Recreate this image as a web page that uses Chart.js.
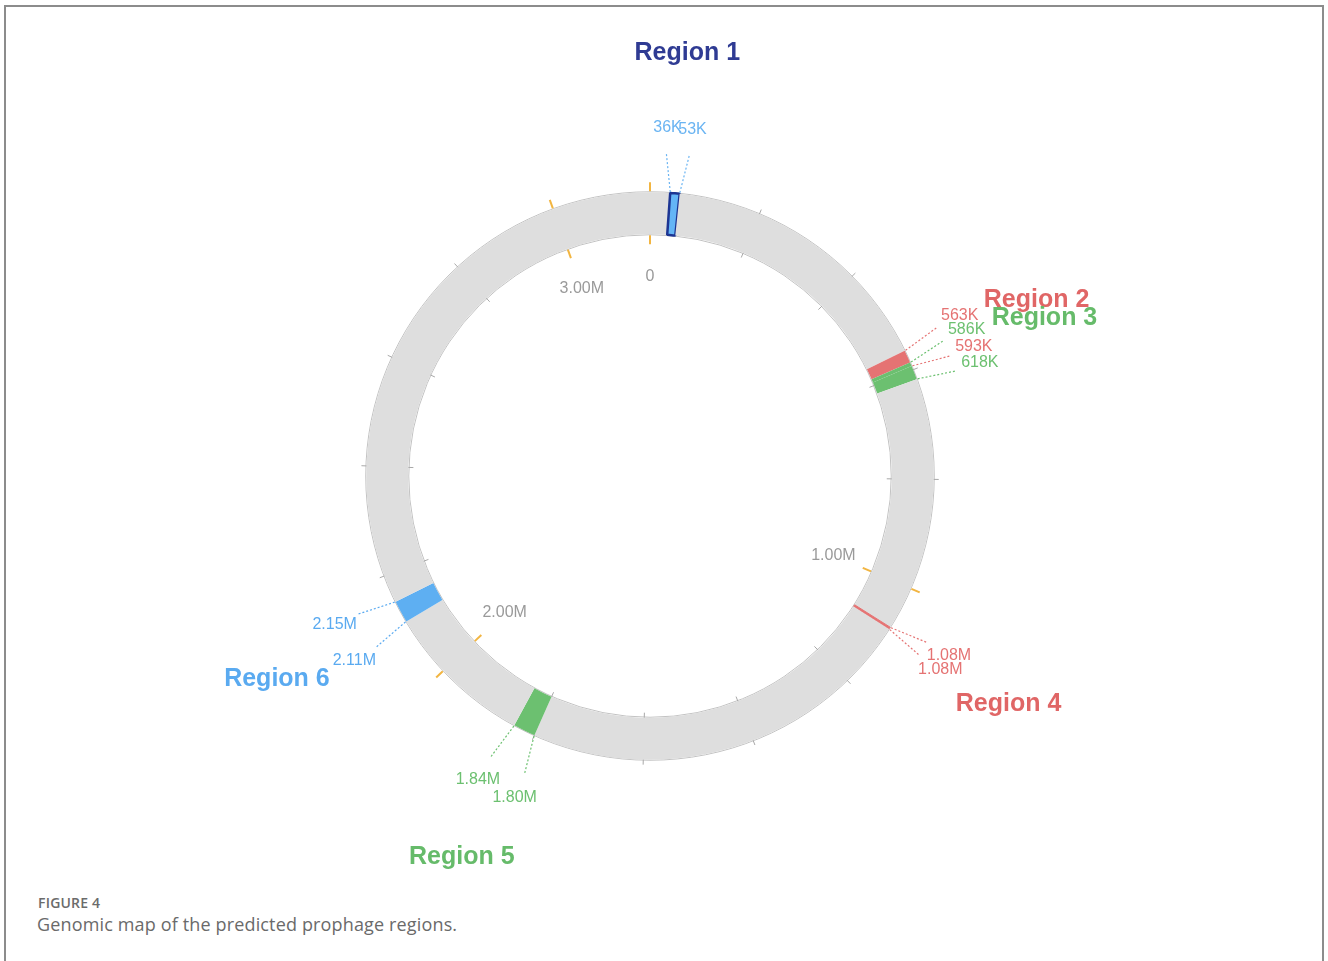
<!DOCTYPE html>
<html>
<head>
<meta charset="utf-8">
<script src="https://cdn.jsdelivr.net/npm/chart.js@4.4.1/dist/chart.umd.min.js"></script>
<style>
  html, body { margin: 0; padding: 0; background: #fff; }
  #page { position: relative; width: 1328px; height: 961px; overflow: hidden; background: #fff; }
  #frame { position: absolute; left: 4px; top: 5px; width: 1320px; height: 970px; border: 2px solid #8c8c8c; box-sizing: border-box; }
  #chart { position: absolute; left: 0; top: 0; }
  .fig-label { position: absolute; left: 38px; top: 893px; font: 600 14px "Open Sans", sans-serif; color: #6b6b6b; letter-spacing: 0.2px; }
  .fig-caption { position: absolute; left: 37px; top: 912px; font: 400 18px "Open Sans", sans-serif; color: #6a6a6a; letter-spacing: 0.15px; }
</style>
</head>
<body>
<div id="page">
  <div id="frame"></div>
  <canvas id="chart" width="1328" height="880"></canvas>
  <div class="fig-label">FIGURE 4</div>
  <div class="fig-caption">Genomic map of the predicted prophage regions.</div>
</div>
<script>
// ------------------------------------------------------------
// DATA
// ------------------------------------------------------------
const genomeLength = 3176000;
const regionNames = ['Region 1', 'Region 2', 'Region 3', 'Region 4', 'Region 5', 'Region 6'];
const regionStart = [36000, 563000, 586000, 1078000, 1800000, 2110000];
const regionEnd = [53000, 593000, 618000, 1082000, 1840000, 2150000];
const startLabels = ['36K', '563K', '586K', '1.08M', '1.80M', '2.11M'];
const endLabels = ['53K', '593K', '618K', '1.08M', '1.84M', '2.15M'];
const majorTicks = [0, 1000000, 2000000, 3000000];
const majorTickLabels = ['0', '1.00M', '2.00M', '3.00M'];
const minorStep = 200000;

// ------------------------------------------------------------
// STYLE
// ------------------------------------------------------------
const RING = '#dedede';
const RING_EDGE = '#c3c3c3';
const regionFill = ['#64b5f6', '#e57373', '#6cc070', '#e57373', '#6cc070', '#5eaff2'];
const regionText = ['#6ab4f2', '#e57373', '#6cc070', '#e57373', '#6cc070', '#5aaaf0'];
const regionTitle = ['#2f3b93', '#e06666', '#66bb6a', '#e06666', '#66bb6a', '#5aaaf0'];
const regionBorder = ['#1c3593', null, null, '#e57373', null, null];

// build ring segments from region bounds (later regions drawn on top)
const bounds = [...new Set([0, genomeLength, ...regionStart, ...regionEnd])].sort((a, b) => a - b);
const segValues = [], segColors = [], segBorder = [], segBorderW = [], segRegion = [];
for (let i = 0; i < bounds.length - 1; i++) {
  const a = bounds[i], b = bounds[i + 1];
  let r = -1;
  regionStart.forEach((s, k) => { if (s <= a && regionEnd[k] >= b) r = k; });
  segValues.push(b - a);
  segRegion.push(r);
  segColors.push(r < 0 ? RING : regionFill[r]);
  segBorder.push(r >= 0 && regionBorder[r] ? regionBorder[r] : 'rgba(0,0,0,0)');
  segBorderW.push(r >= 0 && regionBorder[r] ? (r === 0 ? 2.5 : 1) : 0);
}

const deg = Math.PI / 180;

const genomePlugin = {
  id: 'genome',
  beforeDatasetsDraw(chart) {
    const arc = chart.getDatasetMeta(0).data[0];
    const ctx = chart.ctx;
    ctx.save();
    ctx.strokeStyle = RING_EDGE;
    ctx.lineWidth = 1;
    ctx.beginPath(); ctx.arc(arc.x, arc.y, arc.outerRadius + 0.5, 0, Math.PI * 2); ctx.stroke();
    ctx.beginPath(); ctx.arc(arc.x, arc.y, arc.innerRadius - 0.5, 0, Math.PI * 2); ctx.stroke();
    ctx.restore();
  },
  afterDatasetsDraw(chart) {
    const meta = chart.getDatasetMeta(0);
    const arc0 = meta.data[0];
    const cx = arc0.x, cy = arc0.y, ro = arc0.outerRadius, ri = arc0.innerRadius;
    const a0 = arc0.startAngle;
    const ang = v => a0 + (v / genomeLength) * Math.PI * 2;
    const pt = (a, r) => [cx + Math.cos(a) * r, cy + Math.sin(a) * r];
    const ctx = chart.ctx;
    ctx.save();

    const seg = (a, r1, r2) => {
      const p = pt(a, r1), q = pt(a, r2);
      ctx.beginPath(); ctx.moveTo(p[0], p[1]); ctx.lineTo(q[0], q[1]); ctx.stroke();
    };

    // minor ticks
    ctx.strokeStyle = '#a8a8a8';
    ctx.lineWidth = 1;
    for (let v = minorStep; v < genomeLength; v += minorStep) {
      if (v % 1000000 === 0) continue;
      seg(ang(v), ro, ro + 5);
      seg(ang(v), ri, ri - 5);
    }
    // major ticks + labels
    ctx.strokeStyle = '#f2b541';
    ctx.lineWidth = 2;
    ctx.font = '16px "Liberation Sans", Arial, sans-serif';
    ctx.textAlign = 'center';
    ctx.textBaseline = 'middle';
    majorTicks.forEach((v, i) => {
      seg(ang(v), ro + 1, ro + 10);
      seg(ang(v), ri - 1, ri - 10);
      const p = pt(ang(v), ri - 42);
      ctx.fillStyle = '#9a9a9a';
      ctx.fillText(majorTickLabels[i], p[0], p[1]);
    });

    // leader lines and boundary labels
    const spread = [-1.2, 1.0];
    ctx.lineWidth = 1.2;
    ctx.setLineDash([2, 2]);
    regionNames.forEach((name, k) => {
      [[regionStart[k], startLabels[k]], [regionEnd[k], endLabels[k]]].forEach(([v, txt], j) => {
        const a = ang(v);
        const la = a + spread[j] * deg;
        const p = pt(a, ro + 1), q = pt(la, ro + 40);
        ctx.strokeStyle = regionText[k];
        ctx.beginPath(); ctx.moveTo(p[0], p[1]); ctx.lineTo(q[0], q[1]); ctx.stroke();
        const t = pt(la, ro + 65);
        ctx.fillStyle = regionText[k];
        ctx.fillText(txt, t[0], t[1]);
      });
    });
    ctx.setLineDash([]);

    // region titles
    ctx.font = 'bold 25px "Liberation Sans", Arial, sans-serif';
    regionNames.forEach((name, k) => {
      const p = pt(ang((regionStart[k] + regionEnd[k]) / 2), ro + 141);
      ctx.fillStyle = regionTitle[k];
      ctx.fillText(name, p[0], p[1]);
    });
    ctx.restore();
  }
};

new Chart(document.getElementById('chart'), {
  type: 'doughnut',
  data: {
    labels: segRegion.map(r => (r < 0 ? '' : regionNames[r])),
    datasets: [{
      data: segValues,
      backgroundColor: segColors,
      borderColor: segBorder,
      borderWidth: segBorderW,
      hoverOffset: 0,
    }],
  },
  options: {
    responsive: false,
    animation: false,
    cutout: '85.2%',
    layout: { padding: { left: 365, right: 393, top: 191, bottom: 119 } },
    plugins: { legend: { display: false }, tooltip: { enabled: false } },
  },
  plugins: [genomePlugin],
});
</script>
</body>
</html>
